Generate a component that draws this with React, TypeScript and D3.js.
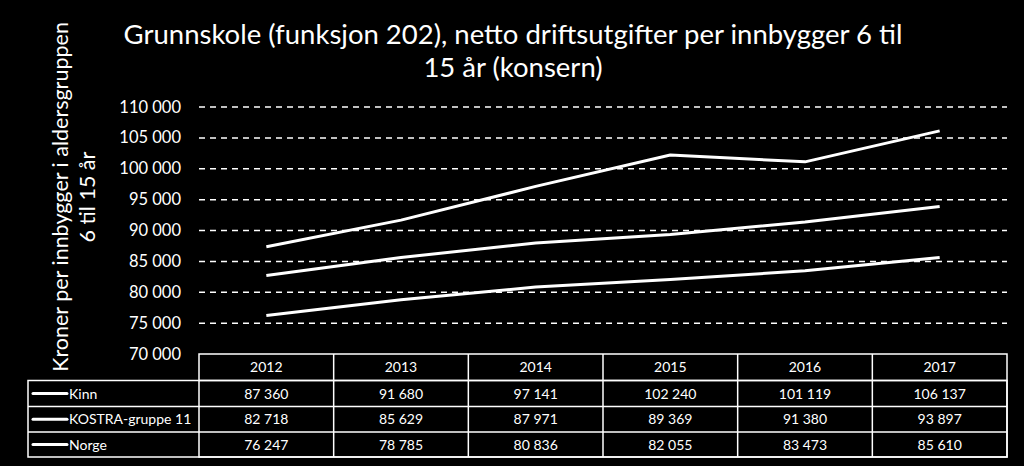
import React from "react";
import * as d3 from "d3";

const years = ["2012", "2013", "2014", "2015", "2016", "2017"];
const seriesNames = ["Kinn", "KOSTRA-gruppe 11", "Norge"];
const kinn = [87360, 91680, 97141, 102240, 101119, 106137];
const kostra = [82718, 85629, 87971, 89369, 91380, 93897];
const norge = [76247, 78785, 80836, 82055, 83473, 85610];
const yTicks = [70000, 75000, 80000, 85000, 90000, 95000, 100000, 105000, 110000];
const titleLines = ["Grunnskole (funksjon 202), netto driftsutgifter per innbygger 6 til", "15 år (konsern)"];
const yLabelLines = ["Kroner per innbygger i aldersgruppen", "6 til 15 år"];

const W = 1024, H = 466;
const FONT = "Lato, 'Open Sans', sans-serif";

export default function App() {
  const series = [kinn, kostra, norge];
  const left = 199, right = 1007;
  const x = d3.scaleBand<string>().domain(years).range([left, right]);
  const y = d3.scaleLinear().domain([70000, 110000]).range([354, 107]);
  const fmt = (v: number) => d3.format(",")(v).replace(/,/g, " ");
  const line = d3.line<number>().x((_, i) => (x(years[i]) as number) + x.bandwidth() / 2).y((d) => y(d));
  const tableTop = 354;
  const rowH = [26.5, 26, 25.5, 25];
  const rowY: number[] = [tableTop];
  rowH.forEach((h, i) => rowY.push(rowY[i] + h));
  const tableLeft = 28;
  return (
    <svg width={W} height={H} style={{ position: "absolute", left: 0, top: 0, background: "#000" }}>
      <rect x={0} y={0} width={W} height={H} fill="#000" />
      {titleLines.map((t, i) => (
        <text key={i} x={513} y={44 + i * 33} fill="#fff" fontSize={27.5} fontFamily={FONT} textAnchor="middle">{t}</text>
      ))}
      {yLabelLines.map((t, i) => (
        <text key={i} transform={`translate(${68 + i * 27},197) rotate(-90)`} fill="#fff" fontSize={21.5} fontFamily={FONT} textAnchor="middle">{t}</text>
      ))}
      {yTicks.map((v) => (
        <g key={v}>
          {v > 70000 && (
            <line x1={left} x2={right} y1={y(v)} y2={y(v)} stroke="#fff" strokeWidth={1.5} strokeDasharray="6,5" />
          )}
          <text x={181} y={y(v) + 5.5} fill="#fff" fontSize={16.5} fontFamily={FONT} textAnchor="end">{fmt(v)}</text>
        </g>
      ))}
      {series.map((s, i) => (
        <path key={i} d={line(s) as string} fill="none" stroke="#fff" strokeWidth={3} strokeLinejoin="round" />
      ))}
      <g stroke="#fff" strokeWidth={1.5} fill="none">
        <rect x={left} y={rowY[0]} width={right - left} height={rowY[4] - rowY[0]} />
        <rect x={tableLeft} y={rowY[1]} width={right - tableLeft} height={rowY[4] - rowY[1]} />
        {years.slice(1).map((yr) => (
          <line key={yr} x1={x(yr) as number} x2={x(yr) as number} y1={rowY[0]} y2={rowY[4]} />
        ))}
        {[1, 2, 3].map((r) => (
          <line key={r} x1={r === 1 ? left : tableLeft} x2={right} y1={rowY[r]} y2={rowY[r]} />
        ))}
      </g>
      {years.map((yr) => (
        <text key={yr} x={(x(yr) as number) + x.bandwidth() / 2} y={rowY[0] + 18} fill="#fff" fontSize={14} fontFamily={FONT} textAnchor="middle">{yr}</text>
      ))}
      {series.map((s, r) => (
        <g key={r}>
          <line x1={33} x2={67} y1={(rowY[r + 1] + rowY[r + 2]) / 2} y2={(rowY[r + 1] + rowY[r + 2]) / 2} stroke="#fff" strokeWidth={3} strokeLinecap="round" />
          <text x={69} y={(rowY[r + 1] + rowY[r + 2]) / 2 + 5} fill="#fff" fontSize={14} fontFamily={FONT}>{seriesNames[r]}</text>
          {s.map((v, i) => (
            <text key={i} x={(x(years[i]) as number) + x.bandwidth() / 2} y={(rowY[r + 1] + rowY[r + 2]) / 2 + 5} fill="#fff" fontSize={14} fontFamily={FONT} textAnchor="middle">{fmt(v)}</text>
          ))}
        </g>
      ))}
    </svg>
  );
}
